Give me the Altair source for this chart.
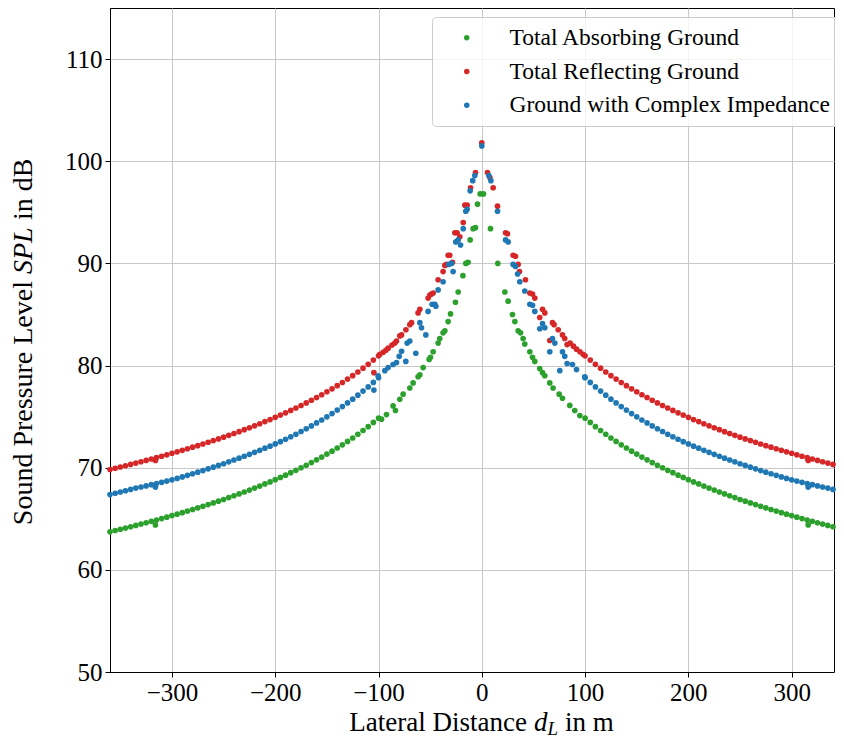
import altair as alt
import pandas as pd

FONT = "Liberation Serif"

series_names = ["Total Absorbing Ground", "Total Reflecting Ground", "Ground with Complex Impedance"]
series_colors = ["#2ca02c", "#d62728", "#1f77b4"]

x_ticks = [-300, -200, -100, 0, 100, 200, 300]
y_ticks = [50, 60, 70, 80, 90, 100, 110]

# lateral distance |d_L| of the densely sampled outer receivers (both sides)
tail_d = [100, 105, 110, 115, 120, 125, 130, 135, 140, 145,
          150, 155, 160, 165, 170, 175, 180, 185, 190, 195,
          200, 205, 210, 215, 220, 225, 230, 235, 240, 245,
          250, 255, 260, 265, 270, 275, 280, 285, 290, 295,
          300, 305, 310, 315, 320, 325, 330, 335, 340, 345,
          350, 355, 360]

red_tail = [80.95, 80.53, 80.12, 79.74, 79.37, 79.01, 78.67, 78.34, 78.03, 77.72,
            77.43, 77.14, 76.87, 76.60, 76.34, 76.09, 75.84, 75.61, 75.37, 75.15,
            74.93, 74.71, 74.51, 74.30, 74.10, 73.91, 73.72, 73.53, 73.35, 73.17,
            72.99, 72.82, 72.65, 72.49, 72.32, 72.16, 72.01, 71.85, 71.70, 71.55,
            71.41, 71.26, 71.12, 70.98, 70.85, 70.71, 70.58, 70.45, 70.32, 70.19,
            70.07, 69.95, 69.82]
blue_tail = [78.80, 78.35, 77.91, 77.50, 77.10, 76.71, 76.34, 75.98, 75.64, 75.30,
             74.98, 74.67, 74.38, 74.09, 73.81, 73.54, 73.27, 73.03, 72.78, 72.55,
             72.33, 72.11, 71.91, 71.70, 71.50, 71.31, 71.12, 70.93, 70.75, 70.57,
             70.39, 70.22, 70.05, 69.89, 69.72, 69.56, 69.41, 69.25, 69.10, 68.95,
             68.81, 68.69, 68.57, 68.45, 68.34, 68.22, 68.11, 68.00, 67.87, 67.74,
             67.62, 67.50, 67.37]
green_tail = [74.85, 74.43, 74.02, 73.64, 73.27, 72.91, 72.57, 72.24, 71.93, 71.62,
              71.33, 71.04, 70.77, 70.50, 70.24, 69.99, 69.74, 69.51, 69.27, 69.05,
              68.83, 68.61, 68.41, 68.20, 68.00, 67.81, 67.62, 67.43, 67.25, 67.07,
              66.89, 66.72, 66.55, 66.39, 66.22, 66.06, 65.91, 65.75, 65.60, 65.45,
              65.31, 65.16, 65.02, 64.88, 64.75, 64.61, 64.48, 64.35, 64.22, 64.09,
              63.97, 63.85, 63.72]

# small dips visible near +-316 m
dip_x = [-316, 316]
red_dip = [70.7, 70.7]
blue_dip = [68.1, 68.1]
green_dip = [64.4, 64.4]

# scattered receivers near the source
red_mid_x = [0, -6.1, 5.5, 7.8, -10.9, 11.0, -14.2, -16.4, 15.2, -18.0,
             -21.3, -23.9, -26.1, 23.0, 24.9, -28.4, -31.0, -32.6, 30.3, 32.6,
             -34.2, -35.8, 35.2, 36.5, -37.5, -42.3, 42.3, -47.1, -48.7, -50.3,
             -52.0, 46.5, 49.1, 51.3, 56.1, -60.0, -61.7, 58.8, 61.0, 65.8,
             -68.0, -69.7, 68.4, 70.0, -73.5, 74.0, -77.7, -79.4, 78.1, 80.3,
             -82.6, -84.2, 82.6, 85.5, -87.0, 88.7, -90.7, -92.9, 91.7, -95.5,
             95.0, -98.7, 98.1, -104.5]
red_mid_y = [101.8, 98.9, 98.9, 98.4, 97.4, 97.4, 95.7, 95.7, 95.6, 94.0,
             92.6, 93.0, 93.0, 93.0, 92.9, 90.1, 90.8, 90.8, 90.8, 90.7,
             89.9, 89.8, 89.9, 89.2, 89.2, 88.4, 88.4, 87.1, 87.0, 86.9,
             86.6, 87.1, 87.0, 86.6, 84.7, 85.5, 85.15, 85.5, 85.15, 82.45,
             84.2, 84.0, 84.2, 84.0, 83.5, 83.5, 83.0, 82.9, 83.0, 82.65,
             82.4, 82.2, 82.05, 82.2, 82.0, 81.9, 81.7, 81.5, 81.6, 81.3,
             81.35, 81.1, 81.1, 79.3]

blue_mid_x = [0, -6.8, 6.8, -8.8, 8.8, -11.3, -14.2, -15.5, 15.2, -18.0,
              -20.6, -22.9, -25.2, 23.0, 25.5, -27.8, -29.3, -32.0, 30.3, 32.6,
              34.6, 36.8, -37.5, -42.3, 41.6, -44.5, -45.5, -48.1, -52.0, 46.5,
              49.1, 51.3, -54.2, 56.1, -58.4, -60.0, 58.8, 61.0, -63.9, 65.8,
              -69.7, -72.3, 68.4, 70.7, -73.6, 75.5, -77.7, -80.0, 78.1, 80.3,
              -82.6, -85.9, 82.6, 87.8, -90.7, -93.9, 91.7, -100.4, 99.7, -104.5]
blue_mid_y = [101.5, 98.6, 98.6, 98.1, 98.1, 97.1, 95.3, 95.1, 95.1, 93.4,
              91.8, 92.3, 92.1, 92.3, 92.1, 89.2, 90.0, 89.9, 89.9, 89.7,
              88.96, 88.2, 88.2, 87.4, 87.3, 85.8, 86.0, 86.0, 85.3, 86.0,
              85.9, 85.3, 83.0, 83.6, 83.7, 84.2, 84.1, 83.7, 81.2, 81.35,
              82.4, 82.2, 82.65, 82.2, 80.4, 79.5, 81.4, 80.9, 81.35, 80.9,
              80.3, 80.1, 80.2, 80.1, 79.8, 79.5, 79.6, 79.0, 78.9, 77.6]

green_mid_x = [-1.6, 1.6, -4.2, -6.1, -8.4, 8.4, -11.3, -13.3, -15.5, 15.5,
               -18.3, -22.9, 22.3, -25.5, 25.5, -30.3, 29.7, -32.6, 32.0, -35.8,
               -37.5, 35.2, 37.5, -40.7, -42.3, 40.0, 41.6, -47.1, -49.7, -51.0,
               46.5, 49.1, 51.3, -56.8, -60.0, -61.7, 56.1, 58.8, 61.0, -66.5,
               -69.7, 65.8, 69.0, -76.2, -79.4, 74.9, 78.1, -83.6, -85.9, 85.2,
               90.0, -92.3, -97.1, 94.9]
green_mid_y = [96.8, 96.8, 95.8, 93.5, 93.4, 93.4, 92.3, 90.1, 90.0, 90.0,
               88.8, 87.2, 87.2, 86.2, 86.3, 85.05, 85.0, 84.3, 84.3, 83.4,
               83.2, 83.4, 83.2, 82.65, 82.2, 82.65, 82.1, 81.35, 80.8, 80.6,
               81.35, 80.8, 80.4, 79.8, 79.1, 78.9, 79.7, 79.3, 79.0, 78.3,
               77.8, 78.3, 77.8, 77.2, 76.7, 77.2, 76.8, 75.6, 76.05, 76.1,
               75.6, 75.2, 74.75, 75.1]

X_MIN, X_MAX = -360, 341  # right edge trimmed so the page fits the window

rows = []


def add(name, xs, ys):
    for xv, yv in zip(xs, ys):
        if X_MIN <= xv <= X_MAX:
            rows.append({"x": xv, "y": yv, "s": name})


series = [
    (series_names[0], green_tail, green_dip, green_mid_x, green_mid_y),
    (series_names[1], red_tail, red_dip, red_mid_x, red_mid_y),
    (series_names[2], blue_tail, blue_dip, blue_mid_x, blue_mid_y),
]
for name, tail, dip, mx, my in series:
    add(name, [-d for d in tail_d], tail)
    add(name, tail_d, tail)
    add(name, dip_x, dip)
    add(name, mx, my)

df = pd.DataFrame(rows)

W, H = 724, 664

points = alt.Chart(df).mark_circle(size=32, opacity=1).encode(
    x=alt.X("x:Q", scale=alt.Scale(domain=[X_MIN, X_MAX], nice=False, zero=False),
            axis=alt.Axis(values=x_ticks, title=None, labelBaseline="top")),
    y=alt.Y("y:Q", scale=alt.Scale(domain=[50, 115], nice=False, zero=False),
            axis=alt.Axis(values=y_ticks, title=None)),
    color=alt.Color("s:N", scale=alt.Scale(domain=series_names, range=series_colors),
                    legend=alt.Legend(title=None, orient="none", legendX=322, legendY=9,
                                      fillColor="rgba(255,255,255,0.8)", strokeColor="#cccccc",
                                      cornerRadius=4, padding=9, symbolOffset=14, labelOffset=31,
                                      rowPadding=8.8, labelFont=FONT, labelFontSize=23.5,
                                      labelColor="black", symbolType="circle", symbolSize=30,
                                      symbolStrokeWidth=0, labelLimit=500)),
)


def txt(text, x, y, size=27, style="normal", align="left", angle=0):
    return alt.Chart(pd.DataFrame({"t": [text]})).mark_text(
        text=text, font=FONT, fontSize=size, fontStyle=style, align=align,
        baseline="alphabetic", angle=angle, color="black"
    ).encode(x=alt.value(x), y=alt.value(y))


xd = 424
xb = 723
yb = -78
ys = 266
texts = [
    txt("Lateral Distance", xd - 7, xb, align="right"),
    txt("d", xd, xb, style="italic"),
    txt("L", xd + 13.5, xb + 4, size=19, style="italic"),
    txt("in m", xd + 31, xb),
    txt("Sound Pressure Level", yb, ys + 7, size=28, align="right", angle=270),
    txt("SPL", yb, ys, size=28, style="italic", angle=270),
    txt("in dB", yb, ys - 54, size=28, angle=270),
]

chart = alt.layer(points, *texts).properties(
    width=W, height=H,
    autosize=alt.AutoSizeParams(type="none"),
    padding={"left": 102, "top": 0, "right": 2, "bottom": 67},
).configure_view(
    stroke="black", strokeWidth=1
).configure_axis(
    labelFont=FONT, labelFontSize=25, labelColor="black",
    tickColor="black", tickSize=5, tickWidth=1,
    domainColor="black", domainWidth=1,
    gridColor="#c8c8c8", gridWidth=1, labelPadding=3,
)

chart.save("out.html", embed_options={"renderer": "svg", "actions": False})
